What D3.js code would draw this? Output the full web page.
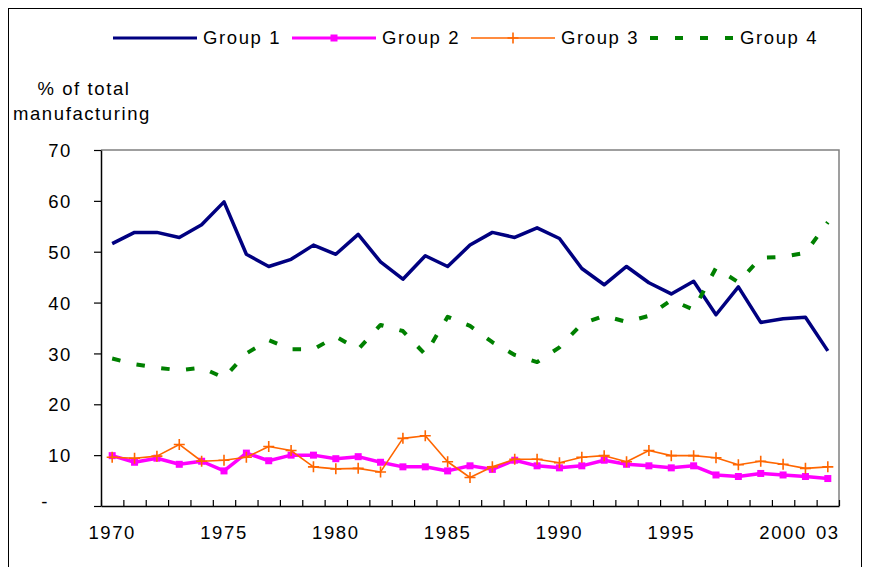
<!DOCTYPE html>
<html>
<head>
<meta charset="utf-8">
<script src="https://cdn.jsdelivr.net/npm/d3@7"></script>
<style>
  body { margin: 0; background: #fff; }
  text { font-family: "Liberation Sans", Arial, sans-serif; fill: #000; }
</style>
</head>
<body>
<svg id="chart" width="869" height="567"></svg>
<script>
// categories (the last one is labelled "03" on the original)
const years = [1970, 1971, 1972, 1973, 1974, 1975, 1976, 1977, 1978, 1979,
    1980, 1981, 1982, 1983, 1984, 1985, 1986, 1987, 1988, 1989,
    1990, 1991, 1992, 1993, 1994, 1995, 1996, 1997, 1998, 1999,
    2000, 2001, 2003]

const group1 = [51.6, 53.8, 53.8, 52.8, 55.3, 59.8, 49.5, 47.1, 48.5, 51.3,
    49.5, 53.4, 48.0, 44.6, 49.2, 47.1, 51.3, 53.8, 52.8, 54.7,
    52.6, 46.7, 43.5, 47.1, 43.9, 41.7, 44.2, 37.6, 43.1, 36.1,
    36.8, 37.1, 30.5]
const group2 = [9.9, 8.6, 9.4, 8.2, 8.8, 6.9, 10.4, 8.9, 10.0, 10.0,
    9.3, 9.7, 8.6, 7.7, 7.7, 6.9, 7.9, 7.2, 9.0, 7.9,
    7.5, 7.9, 9.0, 8.2, 7.9, 7.5, 7.9, 6.1, 5.8, 6.4,
    6.1, 5.8, 5.4]
const group3 = [9.6, 9.4, 9.8, 12.1, 8.8, 9.0, 9.6, 11.7, 10.9, 7.7,
    7.3, 7.4, 6.7, 13.3, 13.8, 8.7, 5.6, 7.7, 9.2, 9.2,
    8.5, 9.6, 9.9, 8.7, 10.9, 9.9, 9.9, 9.5, 8.1, 8.8,
    8.2, 7.4, 7.7]
const group4 = [29.0, 27.9, 27.2, 26.7, 27.2, 25.2, 30.0, 32.6, 30.8, 30.8,
    33.3, 30.8, 35.6, 34.4, 29.8, 37.2, 35.4, 32.2, 29.7, 28.3,
    31.2, 35.8, 37.4, 36.2, 37.4, 40.5, 38.6, 46.8, 44.0, 48.8,
    49.0, 49.8, 55.8]

const yTicks = [0, 10, 20, 30, 40, 50, 60, 70]

const series = [
    { name: "Group 1", values: group1, color: "#000080", width: 3.5, marker: null, dash: null },
    { name: "Group 2", values: group2, color: "#FF00FF", width: 3.5, marker: "square", dash: null },
    { name: "Group 3", values: group3, color: "#FF6600", width: 1.6, marker: "plus", dash: null },
    { name: "Group 4", values: group4, color: "#008000", width: 4, marker: null, dash: "8.5,16.5" }
]

const SVG = d3.select("#chart")
const Margin = { top: 150, left: 101, right: 30, bottom: 61 }
const Width = 869
const Height = 567
const plotRight = Width - Margin.right          // 839
const plotBottom = Height - Margin.bottom       // 506

const fontSize = 18.5
const spacing = "1.6px"

// outer frame
SVG.append("rect")
    .attr("x", 8.5).attr("y", 8.5)
    .attr("width", 853).attr("height", 600)
    .attr("fill", "none").attr("stroke", "#000").attr("stroke-width", 1)

const xscale = d3.scaleBand()
    .domain(years)
    .range([Margin.left, plotRight])
    .padding(0)

// boundaries between categories, for the tick marks
const xedge = d3.scaleLinear()
    .domain([0, years.length])
    .range([Margin.left, plotRight])

const yscale = d3.scaleLinear()
    .domain([0, 70])
    .range([plotBottom, Margin.top])

// plot area border (top + right, gray)
SVG.append("path")
    .attr("d", `M${Margin.left},${Margin.top}H${plotRight}V${plotBottom}`)
    .attr("fill", "none").attr("stroke", "#808080").attr("stroke-width", 1.5)

// y axis
const left = d3.axisLeft(yscale).tickValues(yTicks).tickSizeInner(7).tickSizeOuter(0)
    .tickPadding(22).tickFormat(d => d === 0 ? "-" : d)
const gy = SVG.append("g")
    .attr("transform", `translate(${Margin.left}, 0)`)
    .call(left)
gy.select(".domain").attr("stroke", "#000").attr("stroke-width", 1.5)
gy.selectAll(".tick line").attr("stroke", "#000").attr("stroke-width", 1.2)
gy.selectAll(".tick text")
    .style("font-size", fontSize + "px")
    .style("letter-spacing", spacing)
    .attr("dy", "0.36em")
gy.selectAll(".tick").filter(d => d === 0).select("text")
    .attr("text-anchor", "middle")
    .attr("x", 45 - Margin.left)
    .attr("dy", "0.1em")

// x axis: inside ticks at the category boundaries
const bottom = d3.axisBottom(xedge).tickValues(d3.range(years.length + 1))
    .tickSizeInner(-6).tickSizeOuter(0).tickFormat("")
const gx = SVG.append("g")
    .attr("transform", `translate(0, ${plotBottom})`)
    .call(bottom)
gx.select(".domain").attr("stroke", "#000").attr("stroke-width", 1.5)
gx.selectAll(".tick line").attr("stroke", "#000").attr("stroke-width", 1.2)

// x labels, centred on categories
const labels = d3.axisBottom(xscale).tickSize(0).tickPadding(20)
    .tickFormat(d => d === 2003 ? "03" : (d % 5 === 0 ? d : ""))
const gl = SVG.append("g")
    .attr("transform", `translate(0, ${plotBottom})`)
    .call(labels)
gl.select(".domain").remove()
gl.selectAll(".tick text")
    .style("font-size", fontSize + "px")
    .style("letter-spacing", spacing)

// y axis title
SVG.append("text").text("% of total")
    .attr("x", 84).attr("y", 95)
    .style("text-anchor", "middle")
    .style("font-size", fontSize + "px")
    .style("letter-spacing", spacing)
SVG.append("text").text("manufacturing")
    .attr("x", 82).attr("y", 120)
    .style("text-anchor", "middle")
    .style("font-size", fontSize + "px")
    .style("letter-spacing", spacing)

const cx = (d, i) => xscale(years[i]) + xscale.bandwidth() / 2

const line = d3.line()
    .x((d, i) => cx(d, i))
    .y(d => yscale(d))

function drawMarker(g, type, x, y, color) {
    if (type === "square") {
        g.append("rect")
            .attr("x", x - 3.5).attr("y", y - 3.5)
            .attr("width", 7).attr("height", 7)
            .attr("fill", color)
    } else if (type === "plus") {
        g.append("path")
            .attr("d", `M${x - 5.5},${y}H${x + 5.5}M${x},${y - 5.5}V${y + 5.5}`)
            .attr("stroke", color).attr("stroke-width", 1.6)
    }
}

for (const s of series) {
    const g = SVG.append("g")
    g.append("path")
        .datum(s.values)
        .attr("d", line)
        .attr("fill", "none")
        .attr("stroke", s.color)
        .attr("stroke-width", s.width)
        .attr("stroke-linejoin", "round")
        .attr("stroke-dasharray", s.dash)
    if (s.marker) {
        s.values.forEach((v, i) => drawMarker(g, s.marker, cx(v, i), yscale(v), s.color))
    }
}

// legend
const legendX = [113, 292, 471, 650]
const legendY = 38
series.forEach((s, k) => {
    const g = SVG.append("g")
    const x0 = legendX[k]
    g.append("line")
        .attr("x1", x0).attr("x2", x0 + 84)
        .attr("y1", legendY).attr("y2", legendY)
        .attr("stroke", s.color)
        .attr("stroke-width", s.dash ? 4 : (s.marker === "plus" ? 1.6 : 3))
        .attr("stroke-dasharray", s.dash ? "8,17" : null)
    if (s.marker) drawMarker(g, s.marker, x0 + 42, legendY, s.color)
    g.append("text").text(s.name)
        .attr("x", x0 + 90).attr("y", legendY + 6)
        .style("font-size", fontSize + "px")
        .style("letter-spacing", spacing)
})
</script>
</body>
</html>
